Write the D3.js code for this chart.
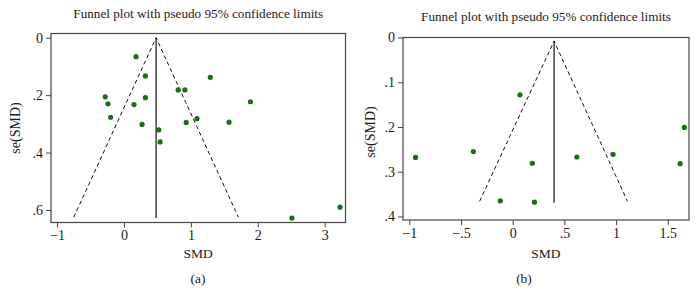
<!DOCTYPE html>
<html>
<head>
<meta charset="utf-8">
<script src="https://cdn.jsdelivr.net/npm/d3@7"></script>
<style>
  body { margin: 0; background: #fff; }
  svg text { font-family: "Liberation Serif", "DejaVu Serif", serif; fill: #1a1a1a; }
</style>
</head>
<body>
<div id="chart"></div>
<script>
// panel (a) studies: SMD and its standard error
var smdA = [0.18, 0.32, 1.29, 0.81, 0.91, -0.28, 0.32, 1.89, -0.24, 0.15,
            -0.20, 1.09, 0.93, 1.57, 0.27, 0.52, 0.54, 2.51, 3.23];
var seA  = [0.066, 0.133, 0.138, 0.182, 0.182, 0.206, 0.209, 0.223, 0.230, 0.233,
            0.277, 0.282, 0.295, 0.294, 0.302, 0.321, 0.363, 0.628, 0.590];
// pseudo 95% limits (left bottom, apex, right bottom) and pooled line
var funnelA = [[-0.75, 0.625], [0.48, 0], [1.71, 0.625]];
var pooledA = [[0.48, 0], [0.48, 0.628]];
var xTicksA = [-1, 0, 1, 2, 3];
var yTicksA = [0, 0.2, 0.4, 0.6];

// panel (b)
var smdB = [0.07, 1.66, -0.38, -0.94, 0.19, 0.62, 0.97, 1.62, -0.12, 0.21];
var seB  = [0.128, 0.201, 0.255, 0.268, 0.281, 0.267, 0.261, 0.282, 0.365, 0.368];
var funnelB = [[-0.32, 0.366], [0.40, 0.008], [1.11, 0.366]];
var pooledB = [[0.40, 0.008], [0.40, 0.369]];
var xTicksB = [-1, -0.5, 0, 0.5, 1, 1.5];
var yTicksB = [0, 0.1, 0.2, 0.3, 0.4];

var title = "Funnel plot with pseudo 95% confidence limits";

var svg = d3.select("#chart").append("svg")
    .attr("width", 698)
    .attr("height", 306);

function fmt(d) {
    if (d === 0) return "0";
    var s = d3.format("")(d).replace("-", "\u2212");
    return s.replace(/^0\./, ".").replace(/^\u22120\./, "\u2212.");
}

function panel(p) {
    var x = d3.scaleLinear().domain(p.xDom).range([p.left, p.right]);
    var y = d3.scaleLinear().domain(p.yDom).range([p.top, p.bottom]);
    var g = svg.append("g");

    g.append("text")
        .attr("x", (p.left + p.right) / 2)
        .attr("y", p.titleY)
        .attr("text-anchor", "middle")
        .style("font-size", "13.2px")
        .text(title);

    g.append("rect")
        .attr("x", p.left)
        .attr("y", p.top)
        .attr("width", p.right - p.left)
        .attr("height", p.bottom - p.top)
        .attr("fill", "none")
        .attr("stroke", "#444")
        .attr("stroke-width", 1.2);

    var yAxis = g.append("g")
        .attr("transform", "translate(" + p.left + ",0)")
        .call(d3.axisLeft(y).tickValues(p.yTicks).tickFormat(fmt).tickSize(5).tickPadding(3));
    var xAxis = g.append("g")
        .attr("transform", "translate(0," + p.bottom + ")")
        .call(d3.axisBottom(x).tickValues(p.xTicks).tickFormat(fmt).tickSize(5).tickPadding(3));
    [yAxis, xAxis].forEach(function(a) {
        a.attr("font-family", null).attr("font-size", null);
        a.select(".domain").remove();
        a.selectAll("line").attr("stroke", "#444");
        a.selectAll("text")
            .style("font-size", "14px")
            .attr("fill", "#1a1a1a");
    });

    var line = d3.line()
        .x(function(d) { return x(d[0]); })
        .y(function(d) { return y(d[1]); });

    g.append("path")
        .attr("d", line(p.funnel))
        .attr("fill", "none")
        .attr("stroke", "#111")
        .attr("stroke-width", 1)
        .attr("stroke-dasharray", "4,3");

    g.append("path")
        .attr("d", line(p.pooled))
        .attr("fill", "none")
        .attr("stroke", "#111")
        .attr("stroke-width", 1.2);

    g.selectAll("circle")
        .data(d3.zip(p.smd, p.se))
        .enter()
        .append("circle")
        .attr("cx", function(d) { return x(d[0]); })
        .attr("cy", function(d) { return y(d[1]); })
        .attr("r", 2.6)
        .attr("fill", "#1a6e14");

    g.append("text")
        .attr("x", (p.left + p.right) / 2)
        .attr("y", 258)
        .attr("text-anchor", "middle")
        .style("font-size", "13.5px")
        .text("SMD");

    g.append("text")
        .attr("transform", "translate(" + p.yLabelX + "," + p.yLabelY + ")rotate(-90)")
        .attr("text-anchor", "middle")
        .style("font-size", "14px")
        .text("se(SMD)");

    g.append("text")
        .attr("x", p.capX)
        .attr("y", 283)
        .attr("text-anchor", "middle")
        .style("font-size", "13.5px")
        .text(p.caption);
}

panel({
    smd: smdA, se: seA, funnel: funnelA, pooled: pooledA,
    xTicks: xTicksA, yTicks: yTicksA,
    left: 51, right: 345.5, top: 33.5, bottom: 222.5,
    xDom: [-1.091, 3.311], yDom: [-0.0146, 0.6435],
    titleY: 17.5, yLabelX: 20, yLabelY: 128, capX: 198, caption: "(a)"
});

panel({
    smd: smdB, se: seB, funnel: funnelB, pooled: pooledB,
    xTicks: xTicksB, yTicks: yTicksB,
    left: 403, right: 689, top: 37.5, bottom: 220,
    xDom: [-1.061, 1.705], yDom: [0, 0.4078],
    titleY: 20.5, yLabelX: 375, yLabelY: 132, capX: 524, caption: "(b)"
});
</script>
</body>
</html>
